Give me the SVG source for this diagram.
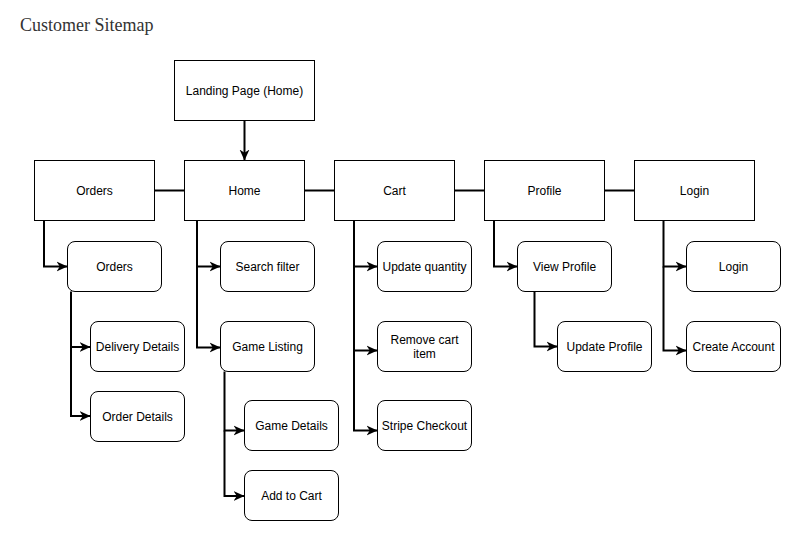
<svg xmlns="http://www.w3.org/2000/svg" width="801" height="552" viewBox="0 0 801 552">
<style>
.box{fill:#fff;stroke:#000;stroke-width:1}
.t{font-family:"Liberation Sans",Arial,sans-serif;font-size:12px;fill:#000;text-anchor:middle;dominant-baseline:central}
.c{fill:none;stroke:#000;stroke-width:2}
.title{font-family:"Liberation Serif","Times New Roman",serif;font-size:18px;fill:#333}
</style>
<defs>
<marker id="arr" markerUnits="userSpaceOnUse" viewBox="0 0 10 10" refX="10" refY="5" markerWidth="11" markerHeight="11" orient="auto">
<path d="M0,0.5 L10,5 L0,9.5 L3,5 Z" fill="#000"/>
</marker>
</defs>
<rect width="801" height="552" fill="#fff"/>
<text class="title" x="20" y="31">Customer Sitemap</text>

<g id="connectors">
<path class="c" marker-end="url(#arr)" d="M244.5,120.5 L244.5,160.5"/>
<path class="c" d="M154.5,190.5 L184.5,190.5"/>
<path class="c" d="M304.5,190.5 L334.5,190.5"/>
<path class="c" d="M454.5,190.5 L484.5,190.5"/>
<path class="c" d="M604.5,190.5 L634.5,190.5"/>
<path class="c" marker-end="url(#arr)" d="M44,220.5 L44,266.5 L67.5,266.5"/>
<path class="c" marker-end="url(#arr)" d="M71,291.5 L71,347 L90.5,347"/>
<path class="c" marker-end="url(#arr)" d="M71,347 L71,416 L90.5,416"/>
<path class="c" marker-end="url(#arr)" d="M197,220.5 L197,266.5 L220.5,266.5"/>
<path class="c" marker-end="url(#arr)" d="M197,266.5 L197,347.5 L220.5,347.5"/>
<path class="c" marker-end="url(#arr)" d="M224.5,371.5 L224.5,430.5 L244.5,430.5"/>
<path class="c" marker-end="url(#arr)" d="M224.5,430.5 L224.5,496 L244.5,496"/>
<path class="c" marker-end="url(#arr)" d="M354,220.5 L354,266.5 L377.5,266.5"/>
<path class="c" marker-end="url(#arr)" d="M354,266.5 L354,350.5 L377.5,350.5"/>
<path class="c" marker-end="url(#arr)" d="M354,350.5 L354,430.5 L377.5,430.5"/>
<path class="c" marker-end="url(#arr)" d="M494,220.5 L494,266.5 L517.5,266.5"/>
<path class="c" marker-end="url(#arr)" d="M534.5,291.5 L534.5,346.5 L557.5,346.5"/>
<path class="c" marker-end="url(#arr)" d="M663.5,220.5 L663.5,266.5 L686.5,266.5"/>
<path class="c" marker-end="url(#arr)" d="M663.5,266.5 L663.5,350.5 L686.5,350.5"/>
</g>

<g id="landing"><rect class="box" x="174.5" y="60.5" width="140" height="60"/><text class="t" x="244.5" y="90.5">Landing Page (Home)</text></g>
<g id="orders"><rect class="box" x="34.5" y="160.5" width="120" height="60"/><text class="t" x="94.5" y="190.5">Orders</text></g>
<g id="home"><rect class="box" x="184.5" y="160.5" width="120" height="60"/><text class="t" x="244.5" y="190.5">Home</text></g>
<g id="cart"><rect class="box" x="334.5" y="160.5" width="120" height="60"/><text class="t" x="394.5" y="190.5">Cart</text></g>
<g id="profile"><rect class="box" x="484.5" y="160.5" width="120" height="60"/><text class="t" x="544.5" y="190.5">Profile</text></g>
<g id="login"><rect class="box" x="634.5" y="160.5" width="120" height="60"/><text class="t" x="694.5" y="190.5">Login</text></g>

<g id="orders-list"><rect class="box" x="67.5" y="241.5" width="94" height="50" rx="7.5"/><text class="t" x="114.5" y="266.5">Orders</text></g>
<g id="delivery-details"><rect class="box" x="90.5" y="321.5" width="94" height="50" rx="7.5"/><text class="t" x="137.5" y="346.5">Delivery Details</text></g>
<g id="order-details"><rect class="box" x="90.5" y="391.5" width="94" height="50" rx="7.5"/><text class="t" x="137.5" y="416.5">Order Details</text></g>

<g id="search-filter"><rect class="box" x="220.5" y="241.5" width="94" height="50" rx="7.5"/><text class="t" x="267.5" y="266.5">Search filter</text></g>
<g id="game-listing"><rect class="box" x="220.5" y="321.5" width="94" height="50" rx="7.5"/><text class="t" x="267.5" y="346.5">Game Listing</text></g>
<g id="game-details"><rect class="box" x="244.5" y="400.5" width="94" height="50" rx="7.5"/><text class="t" x="291.5" y="425.5">Game Details</text></g>
<g id="add-to-cart"><rect class="box" x="244.5" y="470.5" width="94" height="50" rx="7.5"/><text class="t" x="291.5" y="495.5">Add to Cart</text></g>

<g id="update-quantity"><rect class="box" x="377.5" y="241.5" width="94" height="50" rx="7.5"/><text class="t" x="424.5" y="266.5">Update quantity</text></g>
<g id="remove-cart-item"><rect class="box" x="377.5" y="321.5" width="94" height="50" rx="7.5"/><text class="t" x="424.5" y="340">Remove cart</text><text class="t" x="424.5" y="354">item</text></g>
<g id="stripe-checkout"><rect class="box" x="377.5" y="400.5" width="94" height="50" rx="7.5"/><text class="t" x="424.5" y="425.5">Stripe Checkout</text></g>

<g id="view-profile"><rect class="box" x="517.5" y="241.5" width="94" height="50" rx="7.5"/><text class="t" x="564.5" y="266.5">View Profile</text></g>
<g id="update-profile"><rect class="box" x="557.5" y="321.5" width="94" height="50" rx="7.5"/><text class="t" x="604.5" y="346.5">Update Profile</text></g>

<g id="login-page"><rect class="box" x="686.5" y="241.5" width="94" height="50" rx="7.5"/><text class="t" x="733.5" y="266.5">Login</text></g>
<g id="create-account"><rect class="box" x="686.5" y="321.5" width="94" height="50" rx="7.5"/><text class="t" x="733.5" y="346.5">Create Account</text></g>
</svg>
